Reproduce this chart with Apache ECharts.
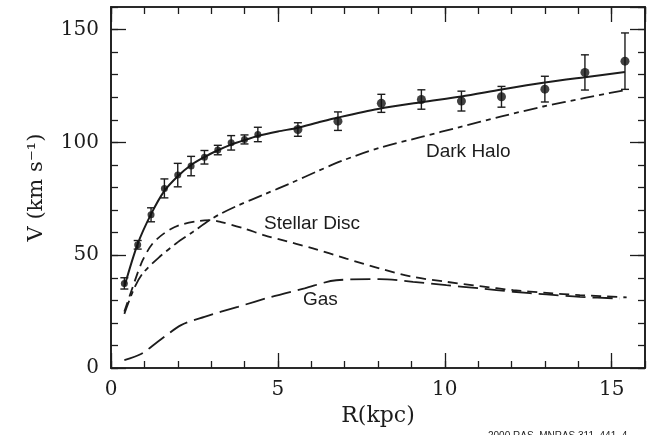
<!DOCTYPE html>
<html><head><meta charset="utf-8">
<script src="https://cdn.jsdelivr.net/npm/echarts@6/dist/echarts.min.js"></script>
<style>html,body{margin:0;padding:0;background:#fff}#c{width:654px;height:435px}</style>
</head><body><div id="c"></div>
<script>
// ---- observed rotation curve ----
const obsR   = [0.4, 0.8, 1.2, 1.6, 2.0, 2.4, 2.8, 3.2, 3.6, 4.0, 4.4, 5.6, 6.8, 8.1, 9.3, 10.5, 11.7, 13.0, 14.2, 15.4];
const obsV   = [37.5, 54.6, 67.9, 79.6, 85.5, 89.5, 93.4, 96.6, 99.8, 101.3, 103.5, 105.7, 109.4, 117.3, 119.0, 118.3, 120.2, 123.6, 131.0, 136.0];
const obsErr = [2.5, 1.9, 3.1, 4.2, 5.2, 4.3, 3.0, 2.1, 3.2, 2.0, 3.2, 3.0, 4.1, 4.0, 4.3, 4.4, 4.6, 5.7, 7.8, 12.5];

// ---- model fit (total) ----
const totalR = [0.4, 0.8, 1.2, 1.6, 2.0, 2.4, 2.8, 3.2, 3.6, 4.0, 4.4, 5.0, 5.6, 6.2, 6.8, 8.0, 9.3, 10.5, 11.7, 13.0, 14.2, 15.4];
const totalV = [36.0, 55.0, 68.2, 78.5, 85.0, 90.0, 93.5, 96.5, 99.0, 101.0, 102.8, 104.8, 106.5, 108.8, 111.0, 114.8, 117.8, 120.3, 123.4, 126.5, 128.9, 131.2];

// ---- dark halo ----
const haloR = [0.4, 0.7, 0.95, 1.45, 1.95, 2.45, 2.95, 3.25, 3.8, 4.6, 5.4, 6.2, 6.95, 8.05, 9.3, 10.45, 11.7, 12.95, 14.2, 15.45];
const haloV = [24.0, 35.5, 41.9, 49.2, 55.2, 60.3, 65.5, 68.1, 72.0, 77.0, 82.0, 87.3, 92.0, 97.6, 102.4, 106.8, 111.5, 115.9, 119.7, 123.3];

// ---- stellar disc ----
const discR = [0.4, 0.7, 0.95, 1.25, 1.65, 2.05, 2.65, 3.0, 3.3, 4.0, 4.6, 5.05, 6.05, 7.05, 8.05, 9.05, 10.05, 11.05, 12.05, 13.05, 14.05, 15.45];
const discV = [25.0, 38.0, 47.8, 55.2, 60.3, 63.3, 65.2, 65.5, 64.7, 61.8, 58.8, 57.0, 53.0, 48.5, 44.1, 40.4, 38.2, 36.3, 34.5, 33.3, 32.3, 31.3];

// ---- gas ----
const gasR = [0.4, 0.9, 1.4, 2.1, 2.8, 3.8, 4.8, 5.8, 6.75, 8.05, 9.05, 10.05, 11.05, 12.05, 13.05, 14.05, 15.25];
const gasV = [3.5, 6.2, 11.6, 19.0, 22.7, 27.1, 31.5, 35.3, 38.9, 39.4, 38.2, 36.7, 35.3, 33.8, 32.6, 31.5, 30.8];

// ---- axes / text ----
const xMin = 0, xMax = 16, xMajor = 5, xMinor = 1;
const yMin = 0, yMax = 160, yMajor = 50, yMinor = 10;
const xName = 'R(kpc)';
const yName = 'V (km s\u207B\u00B9)';
const notes = ['Dark Halo', 'Stellar Disc', 'Gas'];
const credit = '2000 RAS, MNRAS 311, 441\u20134';

const INK = '#1c1c1c';
const SERIF = 'DejaVu Serif';
const SANS = 'Liberation Sans';

function zip(a, b) { return a.map((v, i) => [v, b[i]]); }

function xAx(pos, interval, len, labels) {
  return {
    type: 'value', position: pos, min: xMin, max: xMax, interval: interval,
    name: labels ? xName : '', nameLocation: 'middle', nameGap: 30,
    nameTextStyle: { fontFamily: SERIF, fontSize: 22, color: INK },
    axisLine: { show: true, onZero: false, lineStyle: { color: INK, width: 1.6 } },
    axisTick: { show: true, inside: true, length: len, lineStyle: { color: INK, width: 1.3 } },
    axisLabel: { show: labels, showMaxLabel: false, margin: 12, fontFamily: SERIF, fontSize: 20, color: INK },
    splitLine: { show: false }
  };
}
function yAx(pos, interval, len, labels) {
  return {
    type: 'value', position: pos, min: yMin, max: yMax, interval: interval,
    name: labels ? yName : '', nameLocation: 'middle', nameGap: 64, nameRotate: 90,
    nameTextStyle: { fontFamily: SERIF, fontSize: 21, color: INK },
    axisLine: { show: true, onZero: false, lineStyle: { color: INK, width: 1.6 } },
    axisTick: { show: true, inside: true, length: len, lineStyle: { color: INK, width: 1.3 } },
    axisLabel: { show: labels, showMaxLabel: false, margin: 12, fontFamily: SERIF, fontSize: 20, color: INK },
    splitLine: { show: false }
  };
}

const chart = echarts.init(document.getElementById('c'), null, { renderer: 'canvas' });

const lineBase = { type: 'line', xAxisIndex: 0, yAxisIndex: 0, showSymbol: false, symbol: 'none', smooth: 0.3, animation: false, z: 3 };

chart.setOption({
  animation: false,
  backgroundColor: '#ffffff',
  grid: { left: 111, right: 9, top: 7, bottom: 67 },
  xAxis: [
    xAx('bottom', xMajor, 15, true),
    xAx('bottom', xMinor, 7, false),
    xAx('top', xMajor, 15, false),
    xAx('top', xMinor, 7, false)
  ],
  yAxis: [
    yAx('left', yMajor, 15, true),
    yAx('left', yMinor, 7, false),
    yAx('right', yMajor, 15, false),
    yAx('right', yMinor, 7, false)
  ],
  series: [
    Object.assign({}, lineBase, { name: 'Total', data: zip(totalR, totalV), lineStyle: { color: INK, width: 2, type: 'solid' } }),
    Object.assign({}, lineBase, { name: 'Dark Halo', data: zip(haloR, haloV), lineStyle: { color: INK, width: 1.8, type: [14, 5, 5, 5] } }),
    Object.assign({}, lineBase, { name: 'Stellar Disc', data: zip(discR, discV), lineStyle: { color: INK, width: 1.8, type: [10, 6] } }),
    Object.assign({}, lineBase, { name: 'Gas', data: zip(gasR, gasV), lineStyle: { color: INK, width: 1.8, type: [20, 7] } }),
    {
      type: 'custom', name: 'err', xAxisIndex: 0, yAxisIndex: 0, z: 4,
      data: obsR.map((r, i) => [r, obsV[i] - obsErr[i], obsV[i] + obsErr[i]]),
      renderItem: function (params, api) {
        const lo = api.coord([api.value(0), api.value(1)]);
        const hi = api.coord([api.value(0), api.value(2)]);
        const w = 4;
        const st = { stroke: INK, lineWidth: 1.4 };
        return { type: 'group', children: [
          { type: 'line', shape: { x1: lo[0], y1: lo[1], x2: hi[0], y2: hi[1] }, style: st },
          { type: 'line', shape: { x1: lo[0] - w, y1: lo[1], x2: lo[0] + w, y2: lo[1] }, style: st },
          { type: 'line', shape: { x1: hi[0] - w, y1: hi[1], x2: hi[0] + w, y2: hi[1] }, style: st }
        ] };
      }
    },
    {
      type: 'scatter', name: 'Observed', xAxisIndex: 0, yAxisIndex: 0, z: 5,
      data: zip(obsR, obsV),
      symbol: 'circle',
      symbolSize: function (v) { return v[0] < 5 ? 7 : 9; },
      itemStyle: { color: '#111' }
    }
  ],
  graphic: [
    { type: 'text', left: 426, top: 142, style: { text: notes[0], font: '19px "' + SANS + '"', fill: INK } },
    { type: 'text', left: 264, top: 214, style: { text: notes[1], font: '19px "' + SANS + '"', fill: INK } },
    { type: 'text', left: 303, top: 290, style: { text: notes[2], font: '19px "' + SANS + '"', fill: INK } },
    { type: 'text', left: 488, top: 431, style: { text: credit, font: '10px "' + SANS + '"', fill: '#222' } }
  ]
});
</script>
</body></html>
